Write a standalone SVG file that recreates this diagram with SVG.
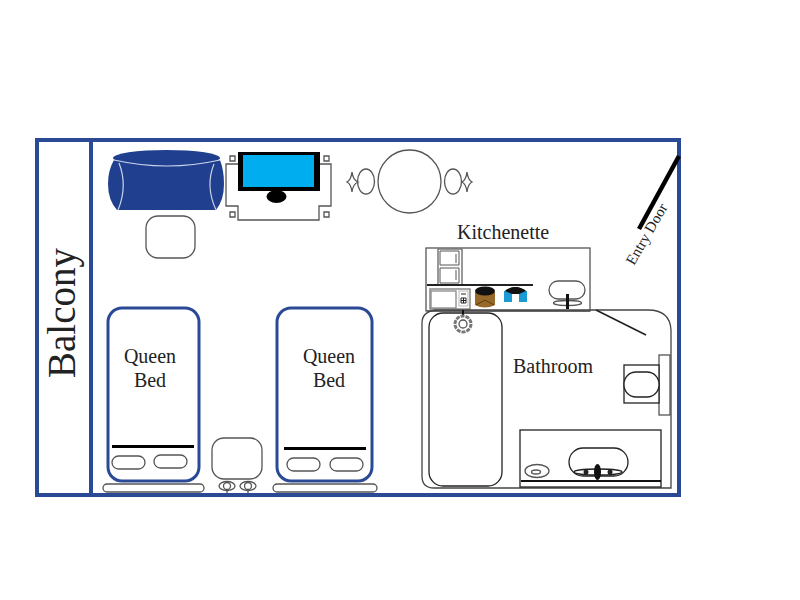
<svg xmlns="http://www.w3.org/2000/svg" width="800" height="600" viewBox="0 0 800 600">
<style>
.wall{fill:none;stroke:#2b4a96;stroke-width:4}
.bedf{fill:#fff;stroke:#2b4a96;stroke-width:3}
.ln{fill:#fff;stroke:#555;stroke-width:1.3}
.no{fill:none;stroke:#555;stroke-width:1.3}
.blk{fill:none;stroke:#222;stroke-width:1.3}
.sf{fill:none;stroke:#c9d3ea;stroke-width:1.2}
text{font-family:"Liberation Serif","Times New Roman",serif;fill:#222;font-size:20px}
</style>
<rect width="800" height="600" fill="#fff"/>
<g id="room"><rect class="wall" x="37" y="140" width="642" height="355"/></g>
<g id="balcony"><rect class="wall" x="37" y="140" width="54" height="355"/>
<text transform="translate(75 378) rotate(-90)" style="font-size:39px">Balcony</text></g>
<g id="sofa">
<ellipse cx="166.500" cy="158" rx="53.500" ry="8" fill="#20408f"/>
<path d="M114 160Q167 172 220 160Q224 170 224 184Q224 200 216 210H117Q108 200 108 184Q108 170 114 160Z" fill="#20408f"/>
<path class="sf" d="M114 160Q167 172 220 160M118 210Q128 186 119 163M216 210Q205 186 214 164"/>
</g>
<g id="ottoman"><rect class="ln" x="146" y="216" width="49" height="42" rx="12"/></g>
<g id="tv-stand">
<path class="ln" d="M238 164H226V206H238V220H319V206H331V164H319Z"/>
<path class="ln" d="M230 156h5v5h-5zM324 156h5v5h-5zM230 212h5v5h-5zM324 212h5v5h-5z"/>
<rect x="238" y="152" width="82" height="39" fill="#000"/>
<rect x="243" y="155" width="71" height="32" fill="#00aeef"/>
<ellipse cx="276.500" cy="196.500" rx="10" ry="6.500" fill="#000"/>
</g>
<g id="dining">
<circle class="ln" cx="409.500" cy="181.500" r="31.500"/>
<ellipse class="ln" cx="366" cy="181.500" rx="8.500" ry="12.500"/>
<ellipse class="ln" cx="453" cy="181.500" rx="8.500" ry="12.500"/>
<path class="ln" d="M352 172Q353 180 358 182Q353 184 352 192Q351 184 347 182Q351 180 352 172Z"/>
<path class="ln" d="M467 172Q468 180 472 182Q468 184 467 192Q466 184 462 182Q466 180 467 172Z"/>
</g>
<g id="entry-door">
<path d="M639 229L679 156" stroke="#000" stroke-width="4.500" fill="none"/>
<text transform="translate(634 266) rotate(-60)" style="font-size:15px">Entry Door</text>
</g>
<g id="kitchenette">
<text x="457" y="239">Kitchenette</text>
<rect class="ln" x="426" y="248" width="164" height="63"/>
<rect x="438" y="249" width="24" height="36" fill="#fff" stroke="#777" stroke-width="1.500"/>
<path class="no" d="M440 251H459V265H440ZM440 268H459V283H440ZM456 254V263M456 270V280" style="stroke-width:1"/>
<path d="M427 285H533" stroke="#222" stroke-width="2" fill="none"/>
<rect x="430" y="289" width="40" height="20" fill="#fff" stroke="#777" stroke-width="1.300"/>
<rect class="no" x="431" y="291" width="25" height="17" style="stroke:#888"/>
<rect x="459" y="291" width="9" height="15" fill="#fff" stroke="#aaa" stroke-width=".8"/>
<path d="M461 294h5M461 298h5v5h-5zM463.500 298v5M461 300.500h5" fill="none" stroke="#222" stroke-width="1"/>
<path d="M475 292H495V305Q485 310 475 305Z" fill="#96692a"/>
<ellipse cx="485" cy="291" rx="10" ry="4.500" fill="#111"/>
<path d="M476 305L485 300L494 305" fill="none" stroke="#5a3d12" stroke-width="1"/>
<path d="M505 291Q515 283 526 291V293H505Z" fill="#111"/>
<rect x="504" y="291" width="23" height="11" fill="#1b9ad6"/>
<rect x="512" y="294" width="7" height="9" fill="#fff"/>
<path d="M505 291Q515 283 526 291L519 294H512Z" fill="#111"/>
<rect class="ln" x="549" y="281" width="36" height="18" rx="9"/>
<ellipse class="ln" cx="567.500" cy="303" rx="14" ry="2.500"/>
<path d="M567.500 294V309" stroke="#111" stroke-width="3" fill="none"/>
<path d="M427 311H590" stroke="#666" stroke-width="2" fill="none"/>
</g>
<g id="bathroom">
<path class="no" d="M435 310H648Q670 310 671 330V488H434Q422 488 422 476V323Q422 312 435 310Z" style="stroke:#444"/>
<text x="513" y="373">Bathroom</text>
<rect class="blk" x="429" y="313" width="73" height="173" rx="14"/>
<path d="M463 310V318" stroke="#111" stroke-width="2" fill="none"/>
<circle cx="463" cy="324" r="8" fill="#fff" stroke="#777" stroke-width="3" stroke-dasharray="4 1"/>
<circle class="no" cx="463" cy="324" r="4"/>
<path d="M596 310L646 335" stroke="#222" stroke-width="1.800" fill="none"/>
<rect class="ln" x="659" y="355" width="11" height="60"/>
<rect class="blk" x="624" y="365" width="35" height="38" style="fill:#fff"/>
<rect class="blk" x="624" y="372" width="35" height="25" rx="12" style="fill:#fff"/>
<rect class="blk" x="520" y="430" width="141" height="57"/>
<path d="M521 481H661" stroke="#111" stroke-width="1.800" fill="none"/>
<rect class="blk" x="569" y="448" width="59" height="28" rx="14" style="fill:#fff"/>
<ellipse class="blk" cx="598" cy="472" rx="24" ry="3" style="fill:#fff"/>
<ellipse cx="597.500" cy="472" rx="3.500" ry="8" fill="#111"/>
<circle cx="586" cy="472" r="2.500" fill="#222"/>
<circle cx="610" cy="472" r="2.500" fill="#222"/>
<ellipse class="ln" cx="537" cy="471" rx="12" ry="6.500"/>
<ellipse class="no" cx="536" cy="472" rx="4.500" ry="2"/>
</g>
<g id="bed-1">
<rect class="bedf" x="108" y="308" width="91" height="173" rx="14"/>
<text x="150" y="363" text-anchor="middle">Queen</text>
<text x="150" y="387" text-anchor="middle">Bed</text>
<path d="M112 446.500H194" stroke="#000" stroke-width="3" fill="none"/>
<rect class="ln" x="112" y="456" width="33" height="13" rx="6.500"/>
<rect class="ln" x="154" y="455" width="33" height="13" rx="6.500"/>
<rect class="ln" x="103" y="484" width="101" height="8" rx="4"/>
</g>
<g id="bed-2">
<rect class="bedf" x="277" y="308" width="95" height="173" rx="14"/>
<text x="329" y="363" text-anchor="middle">Queen</text>
<text x="329" y="387" text-anchor="middle">Bed</text>
<path d="M284 448.500H366" stroke="#000" stroke-width="3" fill="none"/>
<rect class="ln" x="287" y="458" width="33" height="13" rx="6.500"/>
<rect class="ln" x="330" y="458" width="33" height="13" rx="6.500"/>
<rect class="ln" x="273" y="484" width="104" height="8" rx="4"/>
</g>
<g id="nightstand">
<rect class="ln" x="212" y="438" width="50" height="41" rx="12"/>
<ellipse class="ln" cx="227" cy="486" rx="8" ry="4.500"/>
<ellipse class="ln" cx="248" cy="486" rx="8" ry="4.500"/>
<circle class="no" cx="227" cy="486" r="3.500"/>
<circle class="no" cx="248" cy="486" r="3.500"/>
<path class="no" d="M227 490V493M248 490V493"/>
</g>
</svg>
